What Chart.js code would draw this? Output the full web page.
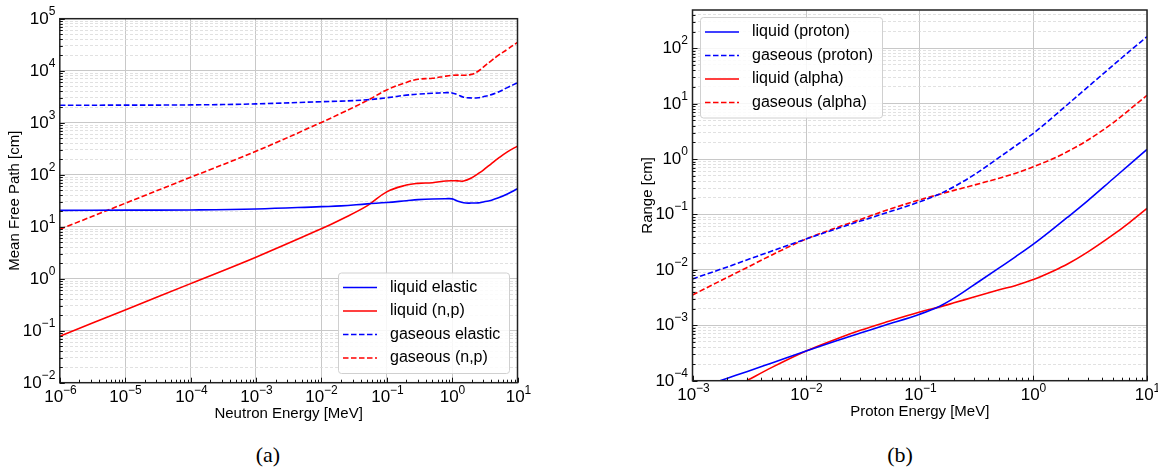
<!DOCTYPE html>
<html>
<head>
<meta charset="utf-8">
<script src="https://cdn.jsdelivr.net/npm/chart.js@4.4.1/dist/chart.umd.min.js"></script>
<style>
	body { margin: 0; width: 1158px; height: 468px; background: #fff; position: relative; overflow: hidden; }
	canvas { position: absolute; top: 0; }
	#chartA { left: 0; }
	#chartB { left: 580px; }
	.cap { position: absolute; top: 442px; width: 60px; text-align: center;
		font-family: "Liberation Serif", "Times New Roman", serif; font-size: 22px; color: #000; }
</style>
</head>
<body>
<canvas id="chartA" width="580" height="430"></canvas>
<canvas id="chartB" width="578" height="430"></canvas>
<div class="cap" style="left:238px">(a)</div>
<div class="cap" style="left:870px">(b)</div>
<script>
// (a) neutron mean free path [cm] vs neutron energy [MeV]
const neutronEnergy = [1e-6, 1e-5, 1e-4, 1e-3, 1e-2, 0.02, 0.05, 0.1, 0.2, 0.3, 0.5, 0.8, 1, 1.2, 1.5, 2, 2.5, 3, 4, 5, 7, 10];
const liquidElastic = [20.6, 20.8, 21.0, 21.9, 24.3, 25.1, 27.5, 29.2, 31.6, 33.1, 34.2, 34.5, 34.3, 31.3, 28.8, 28.5, 28.7, 29.9, 32.4, 35.5, 42.7, 53.7];
const liquidNP      = [0.078, 0.251, 0.804, 2.59, 9.12, 13.8, 25.1, 46.8, 63.1, 68.1, 70.1, 75.9, 76.7, 76.2, 75.5, 87.1, 105, 123, 164, 204, 275, 355];
const gasElastic    = [2163, 2178, 2198, 2300, 2535, 2600, 2754, 3020, 3388, 3548, 3673, 3776, 3733, 3467, 3090, 2992, 3020, 3162, 3467, 3846, 4732, 5888];
const gasNP         = [8.9, 28.2, 89.1, 282, 1012, 1514, 2661, 4266, 5957, 6839, 7161, 7852, 8128, 8222, 8166, 8511, 9772, 11749, 15668, 19498, 25704, 35075];

// (b) range [cm] vs proton energy [MeV]
const protonEnergy  = [0.001, 0.002, 0.003, 0.005, 0.01, 0.02, 0.03, 0.05, 0.1, 0.15, 0.2, 0.3, 0.5, 0.7, 1, 1.5, 2, 3, 5, 7, 10];
const liquidProton  = [6.76e-5, 1.10e-4, 1.45e-4, 2.09e-4, 3.44e-4, 5.56e-4, 7.24e-4, 1.01e-3, 1.585e-3, 2.21e-3, 3.09e-3, 5.37e-3, 0.01084, 0.01738, 0.02917, 0.0556, 0.0891, 0.1762, 0.4365, 0.794, 1.496];
const gasProton     = [0.00686, 0.0112, 0.0151, 0.0219, 0.0361, 0.0582, 0.0759, 0.1059, 0.1698, 0.235, 0.317, 0.518, 1.07, 1.74, 2.92, 5.82, 9.66, 19.8, 48.8, 87.9, 162];
const liquidAlpha   = [3.16e-5, 6.46e-5, 1.0e-4, 1.74e-4, 3.44e-4, 6.03e-4, 8.13e-4, 1.135e-3, 1.738e-3, 2.148e-3, 2.541e-3, 3.236e-3, 4.365e-3, 5.248e-3, 6.683e-3, 9.55e-3, 1.274e-2, 2.089e-2, 4.266e-2, 7.16e-2, 0.1288];
const gasAlpha      = [0.00352, 0.00724, 0.01096, 0.01862, 0.0361, 0.061, 0.0813, 0.1175, 0.184, 0.2317, 0.2723, 0.3388, 0.4519, 0.5559, 0.7244, 1.023, 1.365, 2.188, 4.467, 7.762, 14.13];

const SANS = '"Liberation Sans", Arial, sans-serif';

function isPow10(v) {
	const l = Math.log10(v);
	return Math.abs(l - Math.round(l)) < 1e-6;
}

function decadeTicks(min, max) {
	let out = [];
	for (let e = Math.floor(Math.log10(min)); e <= Math.ceil(Math.log10(max)); e++) {
		for (let m = 1; m < 10; m++) {
			let v = +(m * Math.pow(10, e)).toPrecision(6);
			if (v >= min * 0.999999 && v <= max * 1.000001) out.push({value: v});
		}
	}
	return out;
}

function logAxis(min, max, minorGrid) {
	return {
		type: 'logarithmic',
		min: min,
		max: max,
		afterBuildTicks: (s) => { s.ticks = decadeTicks(min, max); },
		ticks: { display: false, autoSkip: false },
		grid: {
			drawTicks: false,
			color: (c) => {
				if (!c.tick) return 'rgba(0,0,0,0)';
				if (isPow10(c.tick.value)) return '#c8c8c8';
				return minorGrid ? '#d9d9d9' : 'rgba(0,0,0,0)';
			},
			lineWidth: (c) => (c.tick && isPow10(c.tick.value)) ? 1 : 0.8
		},
		border: {
			display: false,
			dash: (c) => (c.tick && !isPow10(c.tick.value)) ? [3, 2] : []
		}
	};
}

function series(xs, ys, label, color, dashed, mono) {
	return {
		label: label,
		data: xs.map((x, i) => ({x: x, y: ys[i]})),
		borderColor: color,
		backgroundColor: color,
		borderWidth: 1.6,
		borderDash: dashed ? [5.5, 2.5] : [],
		pointRadius: 0,
		fill: false,
		tension: 0.4,
		cubicInterpolationMode: mono ? 'monotone' : 'default'
	};
}

function powLabel(ctx, exp, x, y, align) {
	const base = '10', sup = exp < 0 ? '\u2212' + (-exp) : String(exp);
	ctx.font = '17px ' + SANS;
	const wb = ctx.measureText(base).width;
	ctx.font = '12px ' + SANS;
	const ws = ctx.measureText(sup).width;
	let x0 = align === 'center' ? x - (wb + ws) / 2 : x - wb - ws;
	ctx.textAlign = 'left';
	ctx.textBaseline = 'middle';
	ctx.font = '17px ' + SANS;
	ctx.fillText(base, x0, y);
	ctx.font = '12px ' + SANS;
	ctx.fillText(sup, x0 + wb, y - 7.5);
}

const decor = {
	id: 'decor',
	afterDraw(ch) {
		const o = ch.options.plugins.decor;
		const ctx = ch.ctx, a = ch.chartArea;
		const xs = ch.scales.x, ys = ch.scales.y;
		ctx.save();
		ctx.fillStyle = '#000';

		// frame
		ctx.strokeStyle = '#222';
		ctx.lineWidth = 1.5;
		ctx.setLineDash([]);
		ctx.strokeRect(a.left, a.top, a.right - a.left, a.bottom - a.top);

		// inward ticks and labels
		ctx.lineWidth = 1;
		ctx.strokeStyle = '#111';
		xs.ticks.forEach(t => {
			let p = Math.round(xs.getPixelForValue(t.value)) + 0.5;
			let len = isPow10(t.value) ? 5 : 3;
			ctx.beginPath(); ctx.moveTo(p, a.bottom); ctx.lineTo(p, a.bottom - len); ctx.stroke();
			if (isPow10(t.value)) powLabel(ctx, Math.round(Math.log10(t.value)), p, a.bottom + 15, 'center');
		});
		ys.ticks.forEach(t => {
			let p = Math.round(ys.getPixelForValue(t.value)) + 0.5;
			let len = isPow10(t.value) ? 5 : 3;
			ctx.beginPath(); ctx.moveTo(a.left, p); ctx.lineTo(a.left + len, p); ctx.stroke();
			if (isPow10(t.value)) powLabel(ctx, Math.round(Math.log10(t.value)), a.left - 4.5, p, 'right');
		});

		// axis titles
		ctx.font = '15px ' + SANS;
		ctx.textAlign = 'center';
		ctx.textBaseline = 'middle';
		ctx.fillText(o.xTitle, (a.left + a.right) / 2, a.bottom + 31.5);
		ctx.save();
		ctx.translate(a.left - 45, (a.top + a.bottom) / 2);
		ctx.rotate(-Math.PI / 2);
		ctx.fillText(o.yTitle, 0, 0);
		ctx.restore();

		// legend
		const L = o.legend;
		const h = 30 + 23.5 * (ch.data.datasets.length - 1);
		ctx.beginPath();
		ctx.roundRect(L.x + 0.5, L.y + 0.5, L.w, h, 3);
		ctx.fillStyle = 'rgba(255,255,255,0.85)';
		ctx.fill();
		ctx.strokeStyle = '#d0d0d0';
		ctx.lineWidth = 1;
		ctx.stroke();
		ch.data.datasets.forEach((ds, i) => {
			let y = L.y + 15 + i * 23.5;
			ctx.strokeStyle = ds.borderColor;
			ctx.lineWidth = ds.borderWidth;
			ctx.setLineDash(ds.borderDash);
			ctx.beginPath(); ctx.moveTo(L.x + 5, y); ctx.lineTo(L.x + 39, y); ctx.stroke();
			ctx.setLineDash([]);
			ctx.fillStyle = '#000';
			ctx.font = '16px ' + SANS;
			ctx.textAlign = 'left';
			ctx.fillText(ds.label, L.x + 52, y);
		});
		ctx.restore();
	}
};

function makeChart(id, datasets, xAxis, yAxis, padding, deco) {
	return new Chart(document.getElementById(id).getContext('2d'), {
		type: 'line',
		data: { datasets: datasets },
		options: {
			responsive: false,
			animation: false,
			events: [],
			layout: { padding: padding },
			scales: { x: xAxis, y: yAxis },
			plugins: {
				legend: { display: false },
				tooltip: { enabled: false },
				decor: deco
			}
		},
		plugins: [decor]
	});
}

makeChart('chartA', [
		series(neutronEnergy, liquidElastic, 'liquid elastic', '#0000ff', false, false),
		series(neutronEnergy, liquidNP, 'liquid (n,p)', '#ff0000', false, false),
		series(neutronEnergy, gasElastic, 'gaseous elastic', '#0000ff', true, false),
		series(neutronEnergy, gasNP, 'gaseous (n,p)', '#ff0000', true, false)
	],
	logAxis(1e-6, 10, false),
	logAxis(1e-2, 1e5, true),
	{left: 59.8, top: 18.7, right: 62.5, bottom: 47.3},
	{ xTitle: 'Neutron Energy [MeV]', yTitle: 'Mean Free Path [cm]', legend: {x: 338, y: 272.5, w: 171} }
);

makeChart('chartB', [
		series(protonEnergy, liquidProton, 'liquid (proton)', '#0000ff', false, true),
		series(protonEnergy, gasProton, 'gaseous (proton)', '#0000ff', true, true),
		series(protonEnergy, liquidAlpha, 'liquid (alpha)', '#ff0000', false, true),
		series(protonEnergy, gasAlpha, 'gaseous (alpha)', '#ff0000', true, true)
	],
	logAxis(1e-3, 10, false),
	logAxis(1e-4, 490, true),
	{left: 112.5, top: 10, right: 11, bottom: 49.3},
	{ xTitle: 'Proton Energy [MeV]', yTitle: 'Range [cm]', legend: {x: 120, y: 17, w: 182} }
);
</script>
</body>
</html>
